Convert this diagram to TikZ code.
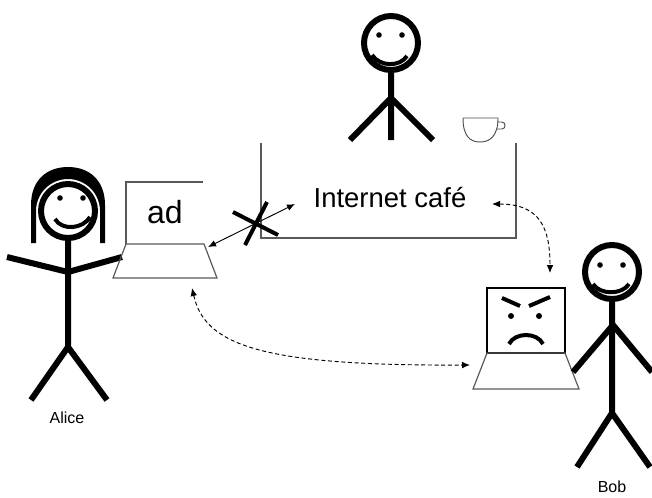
\documentclass[tikz,border=0pt]{standalone}
\usepackage{fontspec}
\setmainfont{Liberation Sans}
\usetikzlibrary{arrows.meta}

\tikzset{
  stick/.style={line width=4.5pt},
  face/.style={line width=3pt},
  device/.style={draw=black!65, line width=0.9pt},
  link/.style={line width=0.7pt, {Latex[length=6pt,width=5pt]}-{Latex[length=6pt,width=5pt]}},
  spoof/.style={link, dash pattern=on 3pt off 2pt}
}

\begin{document}
\begin{tikzpicture}[x=0.75pt,y=-0.75pt]
    \useasboundingbox (0,0) rectangle (652,497);

    % Alice with her hair
    \fill (31,243) -- (31,205) .. controls (31,181) and (46,167) .. (68,167)
          .. controls (90,167) and (105,181) .. (105,205) -- (105,243) -- (100,243)
          -- (100,211) arc (0:-180:32) -- (36,243) -- cycle;
    \draw[stick] (68,211) circle (27);
    \foreach \x in {60,83} \fill (\x,198) circle (2.8);
    \draw[face] (55,219) .. controls (62,231) and (83,229) .. (90,217);
    \draw[stick] (68,238) -- (68,347) -- (31,400) (68,347) -- (107,400);
    \draw[stick] (7,257) -- (68,272) -- (122,257);
    \node[font=\fontsize{12}{14}\selectfont] (alice) at (67,418) {Alice};

    % Alice's laptop
    \draw[device] (203,182) -- (126,182) -- (126,244);
    \draw[device] (126,244) -- (204,244) -- (217,278) -- (113,278) -- cycle;
    \node[font=\fontsize{24}{28}\selectfont] (ad) at (165,212) {ad};

    % the cafe counter and the man behind it
    \draw[device] (261,143) -- (261,238) -- (516,238) -- (516,143);
    \node[font=\fontsize{20.6}{24}\selectfont] (cafe) at (390,198) {Internet café};
    \draw[stick] (391,43) circle (27);
    \foreach \x in {379,402} \fill (\x,35) circle (2.8);
    \draw[face] (372,55) .. controls (380,67) and (400,67) .. (407,56);
    \draw[stick] (391,70) -- (391,140) (391,98) -- (350,140) (391,98) -- (433,140);

    % coffee cup
    \draw[black!70, line width=0.7pt] (463,118) -- (498,118)
          .. controls (498,136) and (490,142) .. (480,142)
          .. controls (470,142) and (463,136) .. (463,118);
    \draw[black!70, line width=0.7pt] (497,122) -- (502,122)
          .. controls (506,122) and (506,129) .. (502,129) -- (496,129);

    % Bob's laptop with the angry face
    \draw[line width=1.1pt] (487,288) rectangle (565,353);
    \draw[device] (487,353) -- (565,353) -- (579,389) -- (473,389) -- cycle;
    \draw[face] (502,298) -- (520,306) (529,306) -- (550,297);
    \foreach \x in {511,539} \fill (\x,316) circle (3);
    \draw[face] (509,344) .. controls (515,332) and (537,332) .. (543,344);

    % Bob
    \draw[stick] (612,272) circle (27);
    \foreach \x in {600,623} \fill (\x,265) circle (2.8);
    \draw[face] (593,284) .. controls (600,295) and (622,295) .. (629,284);
    \draw[stick] (612,299) -- (612,413) -- (577,467) (612,413) -- (650,467);
    \draw[stick] (573,372) -- (613,325) -- (652,372);
    \node[font=\fontsize{12}{14}\selectfont] (bob) at (612,487) {Bob};

    % connections
    \coordinate (alicepc) at (208,247);
    \coordinate (cafein) at (295,204);
    \coordinate (cafeout) at (492,204);
    \coordinate (bobtop) at (550,273);
    \coordinate (alicebase) at (192,288);
    \coordinate (bobpc) at (470,365);
    \draw[link] (alicepc) -- (cafein);
    \draw[line width=3pt] (233,212) -- (278,235) (267,202) -- (245,245);
    \draw[spoof] (cafeout) .. controls (540,204) and (550,228) .. (bobtop);
    \draw[spoof] (alicebase) .. controls (205,345) and (260,366) .. (bobpc);
\end{tikzpicture}
\end{document}
